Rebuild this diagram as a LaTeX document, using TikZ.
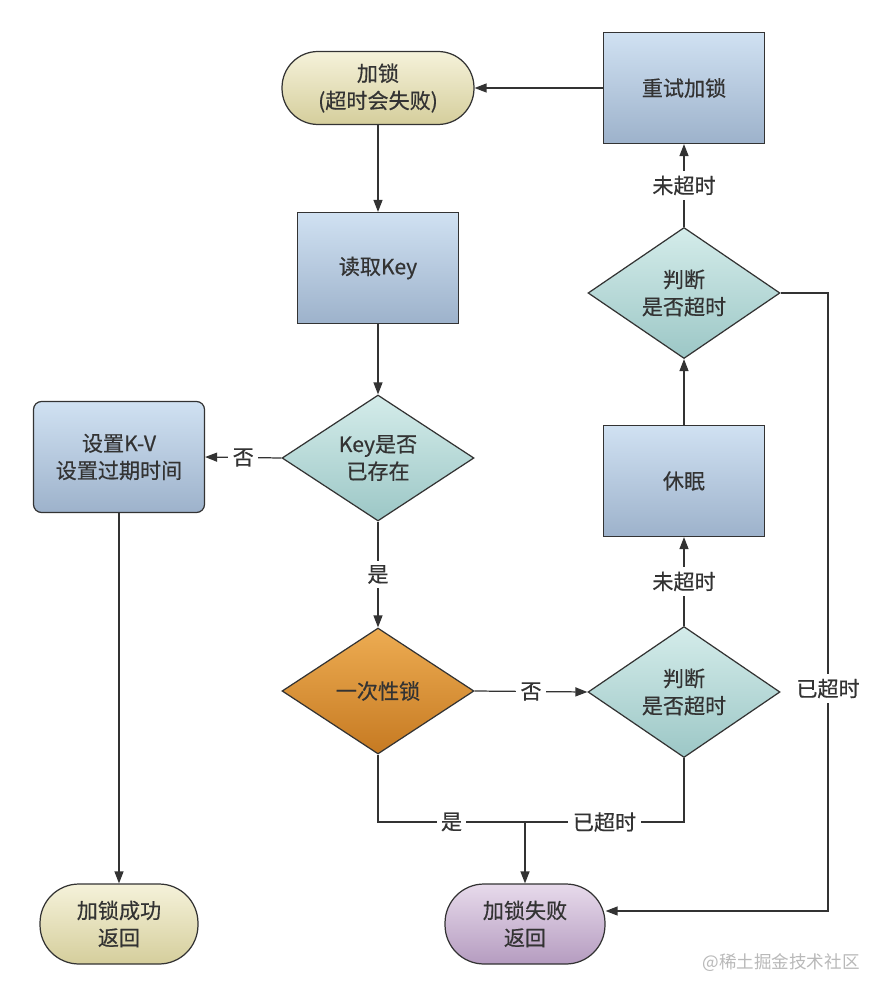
\documentclass[tikz,border=0pt]{standalone}
\usepackage{fontspec}
\setmainfont{Noto Sans CJK SC}[RawFeature={embolden=0.5}]
\newfontfamily\markfont{Noto Sans CJK SC}
\usetikzlibrary{shapes.geometric,arrows.meta,calc}

\definecolor{ink}{HTML}{333333}
\definecolor{beigeT}{HTML}{F5F2DA}
\definecolor{beigeB}{HTML}{D5CE9C}
\definecolor{blueT}{HTML}{D0E1F2}
\definecolor{blueB}{HTML}{9DB2CB}
\definecolor{tealT}{HTML}{D4ECEA}
\definecolor{tealB}{HTML}{9CC7C6}
\definecolor{orangeT}{HTML}{EDAC52}
\definecolor{orangeB}{HTML}{C67A22}
\definecolor{purpleT}{HTML}{E7DAEB}
\definecolor{purpleB}{HTML}{B59CC0}

\tikzset{
  every node/.style={text=ink, font=\fontsize{12}{15.5}\selectfont, align=center},
  pill/.style={draw=ink, line width=0.7pt, rectangle, inner sep=0pt},
  procbox/.style={draw=ink, line width=0.7pt, rectangle, inner sep=0pt,
    minimum width=3.22cm, minimum height=2.22cm, top color=blueT, bottom color=blueB},
  decide/.style={draw=ink, line width=0.7pt, diamond, inner sep=0pt,
    minimum width=3.84cm, minimum height=2.52cm, top color=tealT, bottom color=tealB},
  conn/.style={draw=ink, line width=0.7pt},
  arr/.style={conn, -{Triangle[length=2.4mm,width=1.8mm]}},
  lbl/.style={fill=white, inner sep=2.5pt}
}

\begin{document}
\begin{tikzpicture}[x=0.02cm,y=-0.02cm]
\useasboundingbox[fill=white] (0,0) rectangle (890,1000);

% left and middle column
\node[pill, minimum width=3.84cm, minimum height=1.46cm, rounded corners=0.72cm,
  top color=beigeT, bottom color=beigeB] (lock) at (378,88) {加锁\\(超时会失败)};
\node[procbox] (read) at (378,268) {读取Key};
\node[decide] (exist) at (378,458) {Key是否\\已存在};
\node[pill, minimum width=3.42cm, minimum height=2.22cm, rounded corners=0.16cm,
  top color=blueT, bottom color=blueB] (setkv) at (119,457) {设置K-V\\设置过期时间};
\node[decide, top color=orangeT, bottom color=orangeB] (once) at (378,691) {一次性锁};
\node[pill, minimum width=3.16cm, minimum height=1.6cm, rounded corners=0.78cm,
  top color=beigeT, bottom color=beigeB] (ok) at (119,924) {加锁成功\\返回};
\node[pill, minimum width=3.2cm, minimum height=1.6cm, rounded corners=0.78cm,
  top color=purpleT, bottom color=purpleB] (fail) at (525,924) {加锁失败\\返回};

% right column
\node[procbox] (retry) at (684,88) {重试加锁};
\node[decide] (chkup) at (684,293) {判断\\是否超时};
\node[procbox] (sleep) at (684,481) {休眠};
\node[decide] (chklow) at (684,692) {判断\\是否超时};

\coordinate (mj) at (525,822);
\coordinate (rt) at (828,293);
\coordinate (fe) at ($(fail.east)+(0,-13)$);

\draw[arr] (retry.west) -- (lock.east);
\draw[arr] (lock.south) -- (read.north);
\draw[arr] (read.south) -- (exist.north);
\draw[arr] (exist.west) -- node[lbl]{否} (setkv.east);
\draw[arr] (exist.south) -- node[lbl]{是} (once.north);
\draw[arr] (setkv.south) -- (ok.north);
\draw[arr] (once.east) -- node[lbl]{否} (chklow.west);
\draw[arr] (chklow.north) -- node[lbl]{未超时} (sleep.south);
\draw[arr] (sleep.north) -- (chkup.south);
\draw[arr] (chkup.north) -- node[lbl]{未超时} (retry.south);
\draw[arr] (chkup.east) -- (rt) |- node[lbl,pos=0.32]{已超时} (fe);

\draw[conn] (once.south) |- node[lbl,pos=0.75]{是} (mj);
\draw[conn] (chklow.south) |- node[lbl,pos=0.75]{已超时} (mj);
\draw[arr] (mj) -- (fail.north);

%\node at (781,963) {};
\node[text=gray!55, font=\fontsize{10}{12}\selectfont\markfont] (wm) at (781,963) {@稀土掘金技术社区};
\end{tikzpicture}
\end{document}
